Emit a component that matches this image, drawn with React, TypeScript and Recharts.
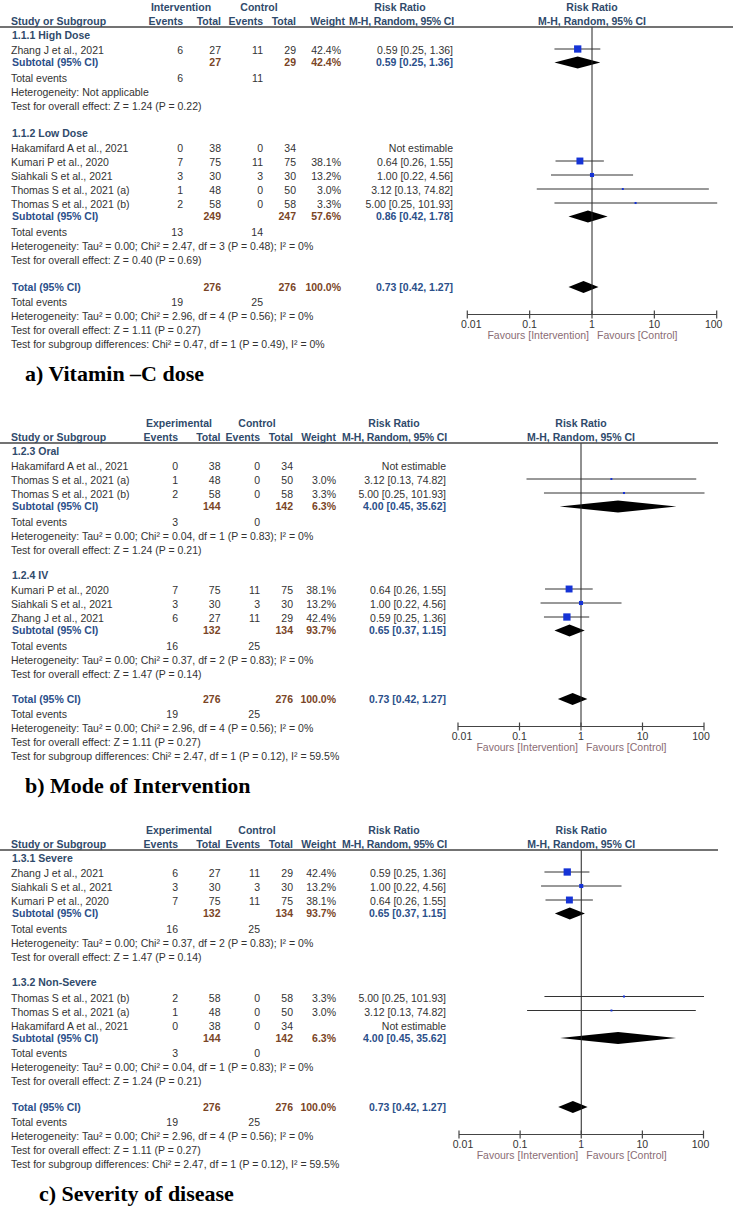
import React from 'react'
import { ComposedChart, XAxis, YAxis, Scatter, ErrorBar, Area, ReferenceLine } from 'recharts'

// the five trials (Thomas split in two arms) – same numbers are reused in all three analyses
const studyNames = [
  'Zhang J et al., 2021',
  'Hakamifard A et al., 2021',
  'Kumari P et al., 2020',
  'Siahkali S et al., 2021',
  'Thomas S et al., 2021 (a)',
  'Thomas S et al., 2021 (b)',
]
const armEvents = [6, 0, 7, 3, 1, 2]
const armTotals = [27, 38, 75, 30, 48, 58]
const controlEvents = [11, 0, 11, 3, 0, 0]
const controlTotals = [29, 34, 75, 30, 50, 58]
const studyWeights: (number | null)[] = [42.4, null, 38.1, 13.2, 3.0, 3.3]
const studyRR: (number | null)[] = [0.59, null, 0.64, 1.0, 3.12, 5.0]
const studyLow: (number | null)[] = [0.25, null, 0.26, 0.22, 0.13, 0.25]
const studyHigh: (number | null)[] = [1.36, null, 1.55, 4.56, 74.82, 101.93]

type Group = {
  label: string
  members: number[]
  armTotal: number
  controlTotal: number
  weight: number
  rr: number
  low: number
  high: number
  armEvents: number
  controlEvents: number
  het: string
  effect: string
}

const highDose: Group = {
  label: '1.1.1 High Dose', members: [0], armTotal: 27, controlTotal: 29, weight: 42.4,
  rr: 0.59, low: 0.25, high: 1.36, armEvents: 6, controlEvents: 11,
  het: 'Heterogeneity: Not applicable', effect: 'Test for overall effect: Z = 1.24 (P = 0.22)',
}
const lowDose: Group = {
  label: '1.1.2 Low Dose', members: [1, 2, 3, 4, 5], armTotal: 249, controlTotal: 247, weight: 57.6,
  rr: 0.86, low: 0.42, high: 1.78, armEvents: 13, controlEvents: 14,
  het: 'Heterogeneity: Tau² = 0.00; Chi² = 2.47, df = 3 (P = 0.48); I² = 0%',
  effect: 'Test for overall effect: Z = 0.40 (P = 0.69)',
}
const oral: Group = {
  label: '1.2.3 Oral', members: [1, 4, 5], armTotal: 144, controlTotal: 142, weight: 6.3,
  rr: 4.0, low: 0.45, high: 35.62, armEvents: 3, controlEvents: 0,
  het: 'Heterogeneity: Tau² = 0.00; Chi² = 0.04, df = 1 (P = 0.83); I² = 0%',
  effect: 'Test for overall effect: Z = 1.24 (P = 0.21)',
}
const iv: Group = {
  label: '1.2.4 IV', members: [2, 3, 0], armTotal: 132, controlTotal: 134, weight: 93.7,
  rr: 0.65, low: 0.37, high: 1.15, armEvents: 16, controlEvents: 25,
  het: 'Heterogeneity: Tau² = 0.00; Chi² = 0.37, df = 2 (P = 0.83); I² = 0%',
  effect: 'Test for overall effect: Z = 1.47 (P = 0.14)',
}
const severe: Group = { ...iv, label: '1.3.1 Severe', members: [0, 3, 2] }
const nonSevere: Group = { ...oral, label: '1.3.2 Non-Severe', members: [5, 4, 1] }

const overallTotals = [276, 276]
const overallEvents = [19, 25]
const overallWeight = 100.0
const overallRR = [0.73, 0.42, 1.27]
const overallHet = 'Heterogeneity: Tau² = 0.00; Chi² = 2.96, df = 4 (P = 0.56); I² = 0%'
const overallEffect = 'Test for overall effect: Z = 1.11 (P = 0.27)'
const doseDiff = 'Test for subgroup differences: Chi² = 0.47, df = 1 (P = 0.49), I² = 0%'
const modeDiff = 'Test for subgroup differences: Chi² = 2.47, df = 1 (P = 0.12), I² = 59.5%'

const axisTicks = [0.01, 0.1, 1, 10, 100]

const FONT = '"Liberation Sans", Arial, sans-serif'
const C_HEAD = '#2f4a6b'
const C_TEXT = '#333333'
const C_SUB = '#2b4f8a'
const C_NUM = '#7a4526'
const C_FAV = '#8a6c74'
const C_SQ = '#1533d6'
const STEP = 14

type PanelCfg = {
  top: number
  height: number
  lineY: number
  lineRight: number
  gap: number
  plotLeft: number
  plotRight: number
  evA: number
  totA: number
  evC: number
  totC: number
  w: number
  wHead: number
  ci: number
  armA: number
  armC: number
  rrCenter: number
  armLabel: string
  title: string
  titleX: number
  groups: Group[]
  diff: string
}

type Row = { kind: string; y: number; idx?: number; g?: Group; text?: string }

function layoutRows(groups: Group[], startY: number, gap: number, diff: string) {
  const rows: Row[] = []
  let y = startY
  groups.forEach((g, gi) => {
    if (gi > 0) y += gap
    rows.push({ kind: 'heading', y, text: g.label })
    g.members.forEach((m, mi) => {
      y += mi === 0 ? STEP + 1.5 : STEP
      rows.push({ kind: 'study', y, idx: m })
    })
    y += STEP - 2
    rows.push({ kind: 'subtotal', y, g })
    y += STEP + 1.5
    rows.push({ kind: 'events', y, g })
    y += STEP
    rows.push({ kind: 'note', y, text: g.het })
    y += STEP
    rows.push({ kind: 'note', y, text: g.effect })
  })
  y += gap
  rows.push({ kind: 'total', y })
  y += STEP + 1.5
  rows.push({ kind: 'overallEvents', y })
  y += STEP
  rows.push({ kind: 'note', y, text: overallHet })
  y += STEP
  rows.push({ kind: 'note', y, text: overallEffect })
  y += STEP
  rows.push({ kind: 'note', y, text: diff })
  return rows
}

const ci = (r: number, lo: number, hi: number) => `${r.toFixed(2)} [${lo.toFixed(2)}, ${hi.toFixed(2)}]`

const AxisTick = (props: any) => {
  const { x, y, payload } = props
  const v = payload.value
  const shift = v === 0.01 ? 4 : v === 100 ? -3 : 0
  return (
    <g>
      <line x1={x} x2={x} y1={y - 4} y2={y + 4} stroke="#444" strokeWidth={1.2} />
      <text x={x + shift} y={y + 13.5} textAnchor="middle" fontFamily={FONT} fontSize={10.5} fill={C_TEXT}>
        {String(v)}
      </text>
    </g>
  )
}

const favoursLabel = (props: any) => {
  const { x, y, width } = props.viewBox
  const mid = x + width / 2
  return (
    <g fontFamily={FONT} fontSize={10.5} fill={C_FAV}>
      <text x={mid - 3} y={y + 24.5} textAnchor="end">Favours [Intervention]</text>
      <text x={mid + 5} y={y + 24.5} textAnchor="start">Favours [Control]</text>
    </g>
  )
}

const Square = (props: any) => {
  const { cx, cy, payload } = props
  const s = 1.12 * Math.sqrt(payload.w)
  return <rect x={cx - s / 2} y={cy - s / 2} width={s} height={s} fill={C_SQ} />
}

function Panel({ cfg }: { cfg: PanelCfg }) {
  const rows = layoutRows(cfg.groups, cfg.lineY + 8, cfg.gap, cfg.diff)
  const totalY = rows.find((r) => r.kind === 'total')!.y
  const axisY = totalY + 27.5
  const lastY = rows[rows.length - 1].y

  const points = rows
    .filter((r) => r.kind === 'study' && studyRR[r.idx!] != null)
    .map((r) => {
      const i = r.idx!
      const v = studyRR[i] as number
      return { x: v, y: r.y - 1.5, w: studyWeights[i] as number, err: [v - (studyLow[i] as number), (studyHigh[i] as number) - v] }
    })

  const pooled = rows
    .filter((r) => r.kind === 'subtotal' || r.kind === 'total')
    .map((r) => {
      const [v, lo, hi] = r.g ? [r.g.rr, r.g.low, r.g.high] : overallRR
      return [
        { x: lo, band: [r.y, r.y] },
        { x: v, band: [r.y - 6, r.y + 6] },
        { x: hi, band: [r.y, r.y] },
      ]
    })

  const t = (x: number, y: number, s: React.ReactNode, opts: any = {}) => (
    <text x={x} y={y + 3.8} fontFamily={FONT} fontSize={10.5} fill={C_TEXT} {...opts}>
      {s}
    </text>
  )
  const num = (x: number, y: number, s: React.ReactNode, opts: any = {}) => t(x, y, s, { textAnchor: 'end', ...opts })

  const forestCenter = (cfg.plotLeft + cfg.plotRight) / 2
  const hy1 = cfg.lineY - 20
  const hy2 = cfg.lineY - 6
  const hb = { fontWeight: 'bold', fill: C_HEAD }

  return (
    <div style={{ position: 'absolute', left: 0, top: cfg.top, width: 733, height: cfg.height }}>
      <ComposedChart
        width={733}
        height={cfg.height}
        margin={{ top: cfg.lineY, left: cfg.plotLeft, right: 733 - cfg.plotRight, bottom: cfg.height - axisY - 30 }}
      >
        <XAxis
          dataKey="x"
          type="number"
          scale="log"
          domain={[0.01, 100]}
          allowDataOverflow
          ticks={axisTicks}
          interval={0}
          tickSize={0}
          tickMargin={0}
          tickLine={false}
          height={30}
          axisLine={{ stroke: '#444', strokeWidth: 1.2 }}
          tick={AxisTick}
          label={favoursLabel}
        />
        <YAxis dataKey="y" type="number" hide width={0} reversed domain={[cfg.lineY, axisY]} allowDataOverflow />
        <ReferenceLine x={1} stroke="#222" strokeWidth={1} />
        {pooled.map((d, i) => (
          <Area
            key={i}
            data={d}
            dataKey="band"
            type="linear"
            stroke="none"
            fill="#000"
            fillOpacity={1}
            dot={false}
            activeDot={false}
            isAnimationActive={false}
          />
        ))}
        <Scatter data={points} dataKey="y" shape={Square} isAnimationActive={false}>
          <ErrorBar dataKey="err" direction="x" width={0} stroke="#333" strokeWidth={1} />
        </Scatter>
      </ComposedChart>

      <svg width={733} height={cfg.height} style={{ position: 'absolute', left: 0, top: 0, pointerEvents: 'none' }}>
        <line x1={0} x2={cfg.lineRight} y1={cfg.lineY} y2={cfg.lineY} stroke="#444" strokeWidth={1.3} />
        {t(cfg.armA, hy1, cfg.armLabel, { ...hb, textAnchor: 'middle' })}
        {t(cfg.armC, hy1, 'Control', { ...hb, textAnchor: 'middle' })}
        {t(cfg.rrCenter, hy1, 'Risk Ratio', { ...hb, textAnchor: 'middle' })}
        {t(forestCenter, hy1, 'Risk Ratio', { ...hb, textAnchor: 'middle' })}
        {t(11, hy2, 'Study or Subgroup', hb)}
        {num(cfg.evA, hy2, 'Events', hb)}
        {num(cfg.totA, hy2, 'Total', hb)}
        {num(cfg.evC, hy2, 'Events', hb)}
        {num(cfg.totC, hy2, 'Total', hb)}
        {num(cfg.wHead, hy2, 'Weight', hb)}
        {num(cfg.ci + 1, hy2, 'M-H, Random, 95% CI', { ...hb, letterSpacing: -0.15 })}
        {t(forestCenter, hy2, 'M-H, Random, 95% CI', { ...hb, textAnchor: 'middle' })}

        {rows.map((r, k) => {
          if (r.kind === 'heading') return <g key={k}>{t(12, r.y, r.text, { fontWeight: 'bold', fill: C_HEAD })}</g>
          if (r.kind === 'note') return <g key={k}>{t(11, r.y, r.text)}</g>
          if (r.kind === 'study') {
            const i = r.idx!
            const est = studyRR[i]
            return (
              <g key={k}>
                {t(11, r.y, studyNames[i])}
                {num(cfg.evA, r.y, armEvents[i])}
                {num(cfg.totA, r.y, armTotals[i])}
                {num(cfg.evC, r.y, controlEvents[i])}
                {num(cfg.totC, r.y, controlTotals[i])}
                {studyWeights[i] != null && num(cfg.w, r.y, `${(studyWeights[i] as number).toFixed(1)}%`)}
                {num(cfg.ci, r.y, est == null ? 'Not estimable' : ci(est, studyLow[i] as number, studyHigh[i] as number))}
              </g>
            )
          }
          if (r.kind === 'subtotal' || r.kind === 'total') {
            const g = r.g
            const label = g ? 'Subtotal (95% CI)' : 'Total (95% CI)'
            const ta = g ? g.armTotal : overallTotals[0]
            const tc = g ? g.controlTotal : overallTotals[1]
            const w = g ? g.weight : overallWeight
            const c = g ? ci(g.rr, g.low, g.high) : ci(overallRR[0], overallRR[1], overallRR[2])
            const bn = { fontWeight: 'bold', fill: C_NUM }
            return (
              <g key={k}>
                {t(12, r.y, label, { fontWeight: 'bold', fill: C_SUB })}
                {num(cfg.totA, r.y, ta, bn)}
                {num(cfg.totC, r.y, tc, bn)}
                {num(cfg.w, r.y, `${w.toFixed(1)}%`, bn)}
                {num(cfg.ci, r.y, c, { fontWeight: 'bold', fill: C_SUB })}
              </g>
            )
          }
          const ea = r.g ? r.g.armEvents : overallEvents[0]
          const ec = r.g ? r.g.controlEvents : overallEvents[1]
          return (
            <g key={k}>
              {t(11, r.y, 'Total events')}
              {num(cfg.evA, r.y, ea)}
              {num(cfg.evC, r.y, ec)}
            </g>
          )
        })}

        <text x={cfg.titleX} y={lastY + 36} fontFamily='"Liberation Serif", "Times New Roman", serif' fontWeight="bold" fontSize={22} fill="#000">
          {cfg.title}
        </text>
      </svg>
    </div>
  )
}

const panelA: PanelCfg = {
  top: 0, height: 400, lineY: 27, lineRight: 733, gap: 27,
  plotLeft: 467.3, plotRight: 716.7,
  evA: 183, totA: 221, evC: 263, totC: 296, w: 341, wHead: 345, ci: 453,
  armA: 181, armC: 259, rrCenter: 400,
  armLabel: 'Intervention', title: 'a) Vitamin \u2013C dose', titleX: 25,
  groups: [highDose, lowDose], diff: doseDiff,
}
const panelB: PanelCfg = {
  top: 400, height: 400, lineY: 43, lineRight: 718, gap: 25,
  plotLeft: 458, plotRight: 704,
  evA: 178, totA: 220.5, evC: 260, totC: 293, w: 336, wHead: 336, ci: 446,
  armA: 179, armC: 257, rrCenter: 394,
  armLabel: 'Experimental', title: 'b) Mode of Intervention', titleX: 25,
  groups: [oral, iv], diff: modeDiff,
}
const panelC: PanelCfg = {
  top: 800, height: 407, lineY: 50, lineRight: 718, gap: 25.5,
  plotLeft: 459, plotRight: 703.5,
  evA: 178, totA: 220.5, evC: 260, totC: 293, w: 336, wHead: 336, ci: 446,
  armA: 179, armC: 257, rrCenter: 394,
  armLabel: 'Experimental', title: 'c) Severity of disease', titleX: 39,
  groups: [severe, nonSevere], diff: modeDiff,
}

export default function App() {
  return (
    <div style={{ position: 'absolute', left: 0, top: 0, width: 733, height: 1207, background: '#fff' }}>
      <Panel cfg={panelA} />
      <Panel cfg={panelB} />
      <Panel cfg={panelC} />
    </div>
  )
}
